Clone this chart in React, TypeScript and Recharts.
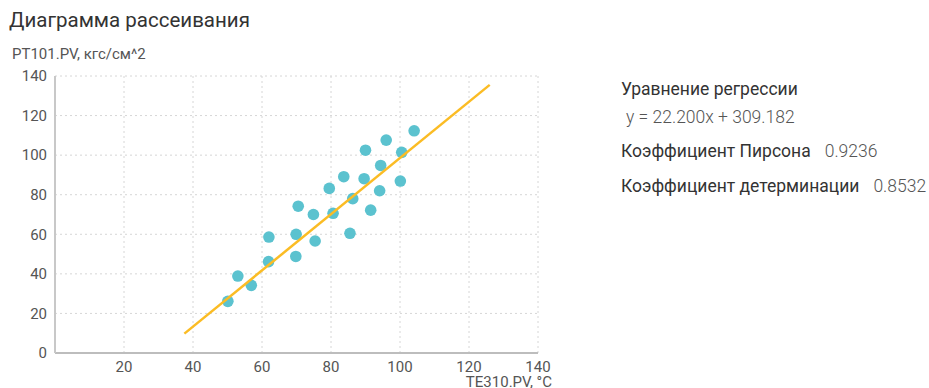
import React from "react";
import { CartesianGrid, Scatter, ScatterChart, XAxis, YAxis } from "recharts";

// TE310.PV, °C
const tempValues = [
  50.1, 53.0, 56.9, 62.0, 61.9, 69.9, 69.8, 70.5, 74.9, 75.4, 79.5, 80.6,
  83.7, 85.5, 86.3, 90.0, 89.6, 91.5, 94.1, 94.4, 96.0, 100.5, 100.1, 104.1
];
// PT101.PV, кгс/см^2
const pressureValues = [
  26.1, 38.9, 34.2, 58.6, 46.2, 60.0, 48.8, 74.2, 70.0, 56.6, 83.2, 70.6,
  89.1, 60.5, 78.0, 102.5, 88.1, 72.2, 82.0, 94.8, 107.6, 101.4, 86.9, 112.3
];

const trendX = [37.5, 126];
const trendY = [9.8, 135.5];

const xTicks = [20, 40, 60, 80, 100, 120, 140];
const yTicks = [0, 20, 40, 60, 80, 100, 120, 140];

const points = tempValues.map((x, i) => ({ x, y: pressureValues[i] }));
const trend = trendX.map((x, i) => ({ x, y: trendY[i] }));

const font = "Roboto, 'Noto Sans', sans-serif";
const tick = { fontSize: 15, fill: "#555", fontFamily: font };

const Dot = (props: any) => <circle cx={props.cx} cy={props.cy} r={5.8} fill="#5bc2cf" />;
const NoDot = () => <g />;

const valueStyle = { marginLeft: 14, color: "#555", fontWeight: 300 };

export default function App() {
  return (
    <div style={{ position: "absolute", left: 0, top: 0, width: 929, height: 388, background: "#fff", fontFamily: font, color: "#333", overflow: "hidden" }}>
      <div style={{ position: "absolute", left: 9, top: 8, fontSize: 20.5, color: "#333" }}>Диаграмма рассеивания</div>
      <div style={{ position: "absolute", left: 12, top: 45, fontSize: 15, color: "#555" }}>PT101.PV, кгс/см^2</div>
      <div style={{ position: "absolute", left: 0, top: 0 }}>
        <ScatterChart width={560} height={388} margin={{ top: 76, right: 22, bottom: 5, left: 10 }}>
          <CartesianGrid stroke="#d6d6d6" strokeDasharray="2 3" />
          <XAxis
            type="number"
            dataKey="x"
            domain={[0, 140]}
            ticks={xTicks}
            height={30}
            tick={tick}
            tickLine={false}
            axisLine={{ stroke: "#bdbdbd", strokeWidth: 2 }}
          />
          <YAxis
            type="number"
            dataKey="y"
            domain={[0, 140]}
            ticks={yTicks}
            width={45}
            tick={tick}
            tickLine={false}
            axisLine={{ stroke: "#c8c8c8", strokeWidth: 2 }}
          />
          <Scatter data={points} shape={Dot} isAnimationActive={false} />
          <Scatter data={trend} line={{ stroke: "#fbbc24", strokeWidth: 2.5 }} shape={NoDot} isAnimationActive={false} />
        </ScatterChart>
      </div>
      <div style={{ position: "absolute", right: 377, top: 374, fontSize: 15, lineHeight: "17px", color: "#555" }}>TE310.PV, °C</div>
      <div style={{ position: "absolute", left: 621, top: 79, fontSize: 17.5, lineHeight: "20px", color: "#333" }}>
        <div>Уравнение регрессии</div>
        <div style={{ marginTop: 8, marginLeft: 5, color: "#555", fontWeight: 300 }}>y = 22.200x + 309.182</div>
        <div style={{ marginTop: 14 }}>
          Коэффициент Пирсона<span style={valueStyle}>0.9236</span>
        </div>
        <div style={{ marginTop: 15 }}>
          Коэффициент детерминации<span style={valueStyle}>0.8532</span>
        </div>
      </div>
    </div>
  );
}
